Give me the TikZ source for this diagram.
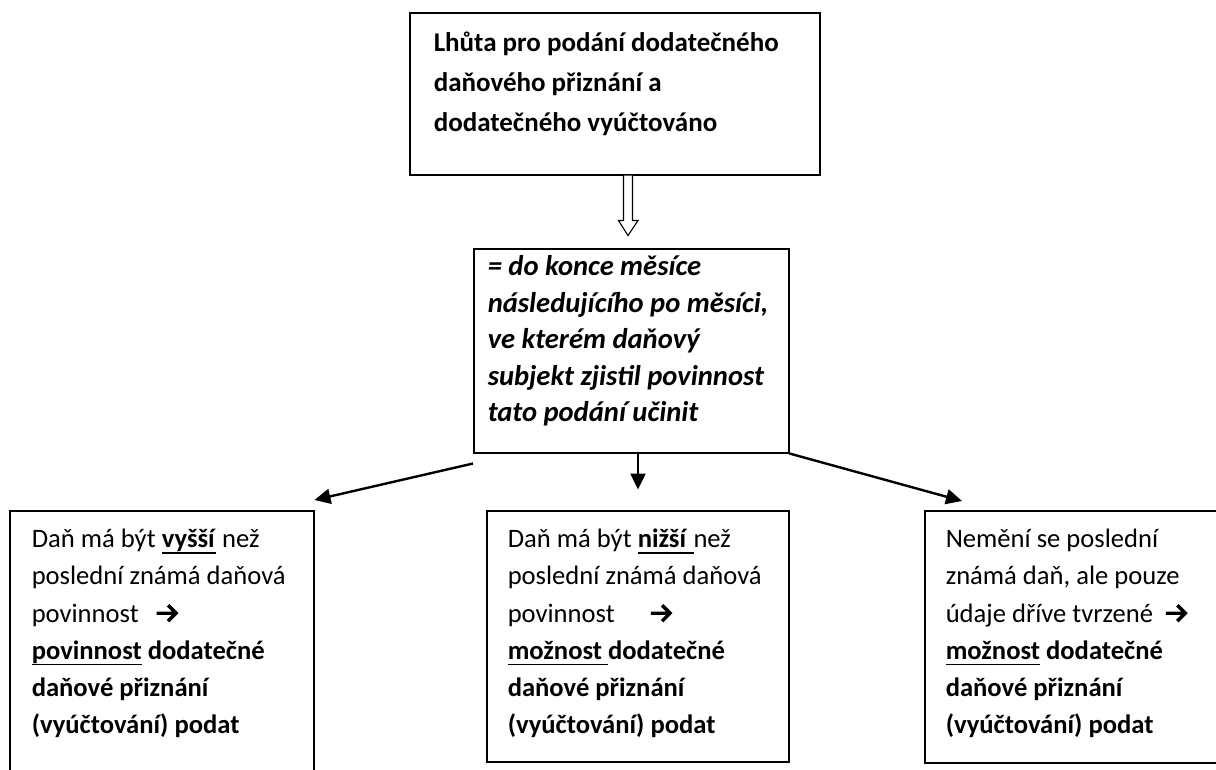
\documentclass[tikz,border=0pt]{standalone}
\usepackage{fontspec}
\setmainfont{Carlito}
\usetikzlibrary{arrows.meta,calc}
\newcommand\myul[1]{\setbox0=\hbox{#1}\rlap{\rule[-6pt]{\wd0}{1.6pt}}\box0\relax}
\newcommand\arr{\tikz[baseline=0pt,x=1.12pt,y=1.12pt]{\fill[black] (0,6.5) rectangle (17,9.5) (9,14) -- (11.2,16.2) -- (19.4,8) -- (11.2,-0.2) -- (9,2) -- (15,8) -- cycle;}}
% width, height, left pad, first baseline, text
\newcommand\bx[5]{\begin{minipage}[t][#2][t]{#1}\setlength\parindent{0pt}\leftskip=#3\rightskip=0pt plus 1fil\relax\rule{0pt}{#4}#5\end{minipage}}
\tikzset{
  box/.style={draw, line width=1.5pt, anchor=north west, inner sep=0pt},
  conn/.style={line width=2.4pt, -{Triangle[length=16pt,width=15pt]}},
}
\begin{document}
\begin{tikzpicture}[x=1pt,y=-1pt]
\useasboundingbox (0,0) rectangle (1216,769);
\clip (0,0) rectangle (1216,769);
\fill[white] (0,0) rectangle (1216,769);

\node[box] (top) at (409,12) {\fontsize{27}{40}\selectfont\bfseries
  \bx{410pt}{162pt}{24pt}{39pt}{Lhůta pro podání dodatečného\\daňového přiznání a\\dodatečného vyúčtováno}};

\node[box] (mid) at (473,248) {\fontsize{28.6}{36.5}\selectfont\bfseries\itshape
  \bx{315pt}{204pt}{14pt}{27pt}{= do konce měsíce\\následujícího po měsíci,\\ve kterém daňový\\subjekt zjistil povinnost\\tato podání učinit}};

\node[box] (left) at (9,510) {\fontsize{26.6}{37.2}\selectfont
  \bx{304pt}{300pt}{22pt}{37pt}{Daň má být \myul{\textbf{vyšší}} než\\poslední známá daňová\\povinnost\hspace{18pt}\arr\\\textbf{\myul{povinnost} dodatečné}\\\textbf{daňové přiznání}\\\textbf{(vyúčtování) podat}}};

\node[box] (center) at (486,510) {\fontsize{26.6}{37.2}\selectfont
  \bx{302pt}{251pt}{21pt}{37pt}{Daň má být \myul{\textbf{nižší }}než\\poslední známá daňová\\povinnost\hspace{36pt}\arr\\\textbf{\myul{možnost }dodatečné}\\\textbf{daňové přiznání}\\\textbf{(vyúčtování) podat}}};

\node[box] (right) at (924,510) {\fontsize{26.6}{37.2}\selectfont
  \bx{330pt}{252pt}{21pt}{37pt}{Nemění se poslední\\známá daň, ale pouze\\údaje dříve tvrzené\hspace{13pt}\arr\\\textbf{\myul{možnost} dodatečné}\\\textbf{daňové přiznání}\\\textbf{(vyúčtování) podat}}};

% hollow arrow from top to mid
\coordinate (ha) at ($(top.south west)+(219,0)$);
\draw[line width=1.1pt, fill=white, line join=miter]
  ($(ha)+(-4.5,0)$) -- ++(0,45) -- ++(-5,0) -- ($(ha)+(0,60)$) -- ($(ha)+(10,45)$) -- ++(-5.5,0) -- ($(ha)+(4.5,0)$);

% connectors
\coordinate (ds) at ($(mid.south west)+(165,0)$);
\draw[conn] (ds) -- ($(ds)+(0,36)$);
\coordinate (ls) at ($(mid.south west)+(0,10)$);
\coordinate (lt) at ($(left.north east)+(0,-10)$);
\draw[conn] (ls) -- (lt);
\coordinate (rt) at ($(right.north west)+(38,-9)$);
\draw[conn] (mid.south east) -- (rt);
\end{tikzpicture}
\end{document}
